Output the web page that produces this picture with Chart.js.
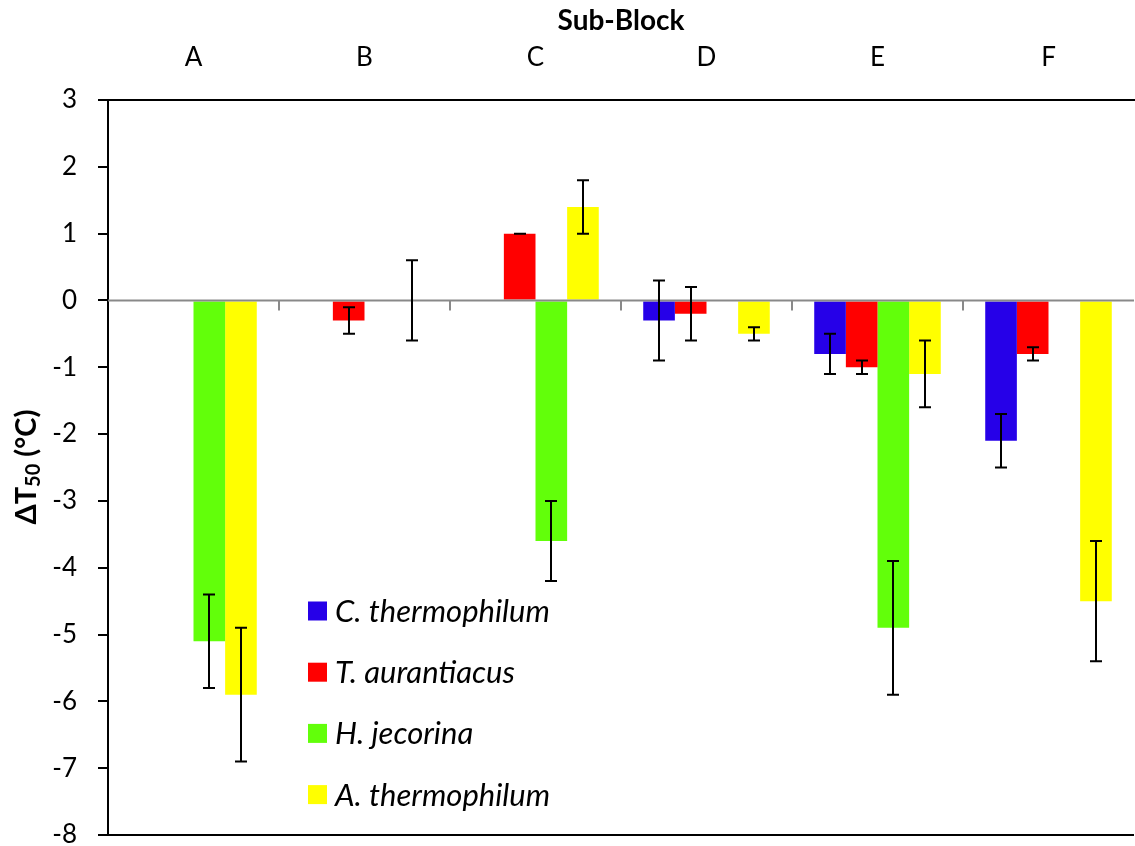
<!DOCTYPE html>
<html>
<head>
<meta charset="utf-8">
<title>Sub-Block ΔT50</title>
<script src="https://cdn.jsdelivr.net/npm/chart.js@4/dist/chart.umd.min.js"></script>
<style>
  html, body { margin: 0; padding: 0; background: #fff; }
  #chart { display: block; }
</style>
</head>
<body>
<canvas id="chart" width="1135" height="846"></canvas>
<script>
// sub-blocks along the top axis
const subBlocks = ['A', 'B', 'C', 'D', 'E', 'F'];
const yTickValues = [3, 2, 1, 0, -1, -2, -3, -4, -5, -6, -7, -8];

// delta T50 per organism (null = no bar)
const cThermophilum = [null, null, null, -0.3, -0.8, -2.1];
const tAurantiacus  = [null, -0.3, 1.0, -0.2, -1.0, -0.8];
const hJecorina     = [-5.1, null, -3.6, null, -4.9, null];
const aThermophilum = [-5.9, 0, 1.4, -0.5, -1.1, -4.5];

// +/- error for each bar
const cThermophilumErr = [null, null, null, 0.6, 0.3, 0.4];
const tAurantiacusErr  = [null, 0.2, 0, 0.4, 0.1, 0.1];
const hJecorinaErr     = [0.7, null, 0.6, null, 1.0, null];
const aThermophilumErr = [1.0, 0.6, 0.4, 0.1, 0.5, 0.9];

const FONT = 'Lato, Carlito, Calibri, "Open Sans", sans-serif';

// grey zero axis with little ticks between the sub-blocks
const zeroAxis = {
    id: 'zeroAxis',
    afterDatasetsDraw(chart) {
        const {ctx, chartArea, scales: {x, y}} = chart;
        const y0 = y.getPixelForValue(0);
        ctx.save();
        ctx.strokeStyle = '#898989';
        ctx.lineWidth = 2;
        ctx.beginPath();
        ctx.moveTo(chartArea.left, y0);
        ctx.lineTo(chartArea.right, y0);
        for (let i = 1; i < subBlocks.length; i++) {
            const bx = Math.round((x.getPixelForValue(i - 1) + x.getPixelForValue(i)) / 2);
            ctx.moveTo(bx, y0);
            ctx.lineTo(bx, y0 + 10);
        }
        ctx.stroke();
        ctx.restore();
    }
};

const errorBars = {
    id: 'errorBars',
    afterDatasetsDraw(chart) {
        const {ctx, scales: {y}} = chart;
        ctx.save();
        ctx.strokeStyle = '#000';
        ctx.lineWidth = 2;
        chart.data.datasets.forEach((ds, di) => {
            const meta = chart.getDatasetMeta(di);
            ds.errors.forEach((err, i) => {
                if (err == null || ds.data[i] == null) return;
                const bx = Math.round(meta.data[i].x);
                const top = y.getPixelForValue(ds.data[i] + err);
                const bot = y.getPixelForValue(ds.data[i] - err);
                ctx.beginPath();
                ctx.moveTo(bx, top);
                ctx.lineTo(bx, bot);
                ctx.moveTo(bx - 6, top);
                ctx.lineTo(bx + 6, top);
                ctx.moveTo(bx - 6, bot);
                ctx.lineTo(bx + 6, bot);
                ctx.stroke();
            });
        });
        ctx.restore();
    }
};

// legend inside the plot, lower left
const innerLegend = {
    id: 'innerLegend',
    afterDraw(chart) {
        const ctx = chart.ctx;
        ctx.save();
        ctx.font = 'italic 31px ' + FONT;
        ctx.textBaseline = 'middle';
        chart.data.datasets.forEach((ds, i) => {
            const cy = 611 + i * 61.2;
            ctx.fillStyle = ds.backgroundColor;
            ctx.fillRect(308, cy - 9.5, 19, 19);
            ctx.fillStyle = '#000';
            ctx.fillText(ds.label, 335, cy + 1);
        });
        ctx.restore();
    }
};

// rotated y title with subscript
const yTitle = {
    id: 'yTitle',
    afterDraw(chart) {
        const ctx = chart.ctx;
        const parts = [
            {t: 'ΔT', font: 'bold 29px ' + FONT, dy: 0},
            {t: '50', font: 'bold 20px ' + FONT, dy: 7},
            {t: ' (°C)', font: 'bold 29px ' + FONT, dy: 0}
        ];
        ctx.save();
        ctx.translate(27, 467);
        ctx.rotate(-Math.PI / 2);
        ctx.textBaseline = 'middle';
        ctx.fillStyle = '#000';
        let total = 0;
        parts.forEach(p => { ctx.font = p.font; p.w = ctx.measureText(p.t).width; total += p.w; });
        let px = -total / 2;
        parts.forEach(p => {
            ctx.font = p.font;
            ctx.fillText(p.t, px, p.dy);
            px += p.w;
        });
        ctx.restore();
    }
};

const data = {
    labels: subBlocks,
    datasets: [
        {label: 'C. thermophilum', data: cThermophilum, errors: cThermophilumErr, backgroundColor: '#2600E8'},
        {label: 'T. aurantiacus', data: tAurantiacus, errors: tAurantiacusErr, backgroundColor: '#FF0000'},
        {label: 'H. jecorina', data: hJecorina, errors: hJecorinaErr, backgroundColor: '#62FF0A'},
        {label: 'A. thermophilum', data: aThermophilum, errors: aThermophilumErr, backgroundColor: '#FFFF00'}
    ]
};

const config = {
    type: 'bar',
    data: data,
    options: {
        responsive: false,
        animation: false,
        devicePixelRatio: 1,
        categoryPercentage: 0.74,
        barPercentage: 1,
        layout: {padding: {left: 0, right: 1, top: 0, bottom: 11}},
        scales: {
            x: {
                position: 'top',
                grid: {display: false, drawTicks: false},
                border: {display: true, color: '#000', width: 2},
                ticks: {color: '#000', font: {family: FONT, size: 26}, padding: 27},
                title: {
                    display: true,
                    text: 'Sub-Block',
                    color: '#000',
                    font: {family: FONT, size: 28, weight: 'bold'},
                    padding: {top: 4, bottom: 0}
                },
                afterFit(scale) {
                    scale.height = 100;
                    scale.paddingLeft = 0;
                    scale.paddingRight = 0;
                }
            },
            y: {
                min: -8,
                max: 3,
                afterBuildTicks(scale) { scale.ticks = yTickValues.map(v => ({value: v})); },
                grid: {
                    color: ctx => (ctx.tick && ctx.tick.value === -8) ? '#000' : 'rgba(0,0,0,0)',
                    tickColor: '#000',
                    lineWidth: 2,
                    tickLength: 10
                },
                border: {display: true, color: '#000', width: 2},
                ticks: {color: '#000', font: {family: FONT, size: 26}, padding: 21},
                afterFit(scale) {
                    scale.width = 108;
                    scale.paddingTop = 0;
                    scale.paddingBottom = 0;
                }
            }
        },
        plugins: {
            legend: {display: false},
            tooltip: {enabled: false}
        }
    },
    plugins: [zeroAxis, errorBars, innerLegend, yTitle]
};

new Chart(document.getElementById('chart'), config);
</script>
</body>
</html>
